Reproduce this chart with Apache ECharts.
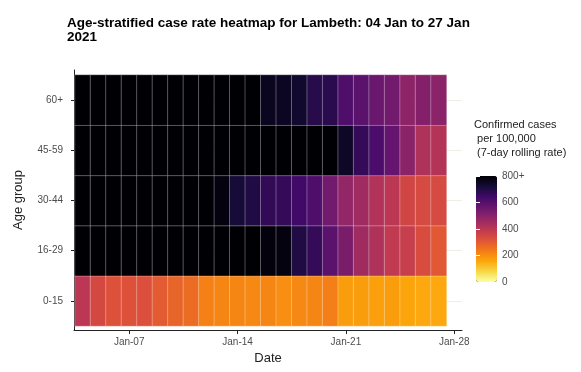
<!DOCTYPE html>
<html><head><meta charset="utf-8">
<script src="https://cdn.jsdelivr.net/npm/echarts@6/dist/echarts.min.js"></script>
<style>html,body{margin:0;padding:0;background:#fff}#c{width:581px;height:372px}</style>
</head><body><div id="c"></div>
<script>
// ---- data ----
const dates = ['Jan-04','Jan-05','Jan-06','Jan-07','Jan-08','Jan-09','Jan-10','Jan-11','Jan-12','Jan-13','Jan-14','Jan-15',
               'Jan-16','Jan-17','Jan-18','Jan-19','Jan-20','Jan-21','Jan-22','Jan-23','Jan-24','Jan-25','Jan-26','Jan-27'];
const ageGroups = ['0-15','16-29','30-44','45-59','60+'];
const rate0to15  = [400,345,320,320,325,300,280,265,225,215,215,210,215,200,210,215,230,175,175,170,175,160,155,155];
const rate16to29 = [1400,1360,1320,1270,1220,1170,1110,1050,990,930,870,820,790,785,700,665,590,530,455,425,390,375,335,305];
const rate30to44 = [1250,1200,1150,1100,1050,1000,950,880,830,785,720,700,670,665,640,615,545,480,455,420,400,355,340,340];
const rate45to59 = [1300,1280,1250,1220,1190,1150,1110,1070,1030,990,960,930,900,870,850,830,815,750,665,620,570,495,425,415];
const rate60plus = [1100,1080,1050,1020,990,960,930,900,870,850,830,810,760,755,735,690,685,615,590,560,545,490,510,495];
const firstDay = 4;                       // Jan 4 = day 4 of January
const tickDays = [7,14,21,28];
const tickLabels = ['Jan-07','Jan-14','Jan-21','Jan-28'];
const legendTicks = [0,200,400,600,800];
const legendLabels = ['0','200','400','600','800+'];
const legendTitle = 'Confirmed cases\n per 100,000\n (7-day rolling rate)';
const titleText = 'Age-stratified case rate heatmap for Lambeth: 04 Jan to 27 Jan\n2021';
const inferno = ['#000004','#160B39','#420A68','#6A176E','#932667','#BC3754','#DD513A','#F37819','#FCA50A','#F6D746','#FCFFA4'];

// ---- build ----
const rows = [rate0to15, rate16to29, rate30to44, rate45to59, rate60plus];
const heat = [];
rows.forEach((r, yi) => r.forEach((v, xi) => heat.push([xi, yi, v])));

const FONT = 'Liberation Sans, Arial, sans-serif';
const chart = echarts.init(document.getElementById('c'), null, {renderer: 'canvas'});
chart.setOption({
  animation: false,
  backgroundColor: '#ffffff',
  textStyle: {fontFamily: FONT},
  title: {
    text: titleText, left: 62, top: 11,
    textStyle: {fontFamily: FONT, fontSize: 13.5, fontWeight: 'bold', color: '#000', lineHeight: 14}
  },
  grid: [
    {left: 75, top: 75, width: 371.5, height: 251},          // tiles
    {left: 74, top: 70, width: 388, height: 260},            // axes
    {left: 74, top: 100.1, width: 388, height: 200.8},       // horizontal gridlines
    {left: 476, top: 176, width: 21, height: 106}            // legend labels
  ],
  xAxis: [
    {gridIndex: 0, type: 'category', data: dates, show: false},
    {gridIndex: 1, type: 'value', min: firstDay - 0.565, max: 28.5,
     axisLine: {show: true, lineStyle: {color: '#222', width: 1}},
     axisTick: {show: true, length: 4, lineStyle: {color: '#222'}, customValues: tickDays},
     axisLabel: {show: true, customValues: tickDays, margin: 7, fontSize: 10, color: '#4D4D4D', fontFamily: FONT,
                 formatter: v => tickLabels[tickDays.indexOf(v)]},
     splitLine: {show: false},
     name: 'Date', nameLocation: 'middle', nameGap: 22,
     nameTextStyle: {fontSize: 13, color: '#222', fontFamily: FONT, verticalAlign: 'top'}},
    {gridIndex: 2, type: 'value', min: 0, max: 1, show: false},
    {gridIndex: 3, type: 'value', min: 0, max: 1, show: false}
  ],
  yAxis: [
    {gridIndex: 0, type: 'category', data: ageGroups,
     axisLine: {show: false},
     axisTick: {show: true, alignWithLabel: true, length: 4, lineStyle: {color: '#222'}},
     axisLabel: {margin: 12, fontSize: 10, color: '#4D4D4D', fontFamily: FONT},
     splitLine: {show: false}},
    {gridIndex: 1, type: 'value', min: 0, max: 1,
     axisLine: {show: true, lineStyle: {color: '#222', width: 1}},
     axisTick: {show: false}, axisLabel: {show: false}, splitLine: {show: false},
     name: 'Age group', nameLocation: 'middle', nameGap: 49, nameRotate: 90,
     nameTextStyle: {fontSize: 13, color: '#222', fontFamily: FONT}},
    {gridIndex: 2, type: 'category', data: ageGroups, boundaryGap: false,
     axisLine: {show: false}, axisTick: {show: false}, axisLabel: {show: false},
     splitLine: {show: true, lineStyle: {color: '#EEEEE2', width: 1}}},
    {gridIndex: 3, type: 'value', min: 0, max: 800, interval: 200, position: 'right', z: 10,
     axisLine: {show: false},
     axisTick: {show: true, inside: true, length: 4, lineStyle: {color: '#ffffff', width: 1}},
     axisLabel: {margin: 5, fontSize: 10, color: '#4D4D4D', fontFamily: FONT,
                 formatter: v => legendLabels[legendTicks.indexOf(v)]},
     splitLine: {show: false}},
    {gridIndex: 3, type: 'value', min: 0, max: 800, interval: 200, position: 'left', z: 10,
     axisLine: {show: false},
     axisTick: {show: true, inside: true, length: 4, lineStyle: {color: '#ffffff', width: 1}},
     axisLabel: {show: false}, splitLine: {show: false}}
  ],
  visualMap: {
    type: 'continuous', min: 0, max: 800, seriesIndex: 0, dimension: 2,
    calculable: false, realtime: false, hoverLink: false,
    orient: 'vertical', left: 476, top: 176, padding: 0,
    itemWidth: 21, itemHeight: 106, text: null, showLabel: false,
    inRange: {color: inferno.slice().reverse()},
    outOfRange: {color: '#000004'}
  },
  graphic: [{
    type: 'text', left: 474, top: 118,
    style: {text: legendTitle, fontSize: 11, lineHeight: 14, fill: '#222', fontFamily: FONT}
  }],
  series: [{
    type: 'heatmap', xAxisIndex: 0, yAxisIndex: 0, data: heat,
    itemStyle: {borderColor: 'rgba(255,255,255,0.3)', borderWidth: 1},
    emphasis: {disabled: true}, progressive: 0
  }]
});
</script></body></html>
